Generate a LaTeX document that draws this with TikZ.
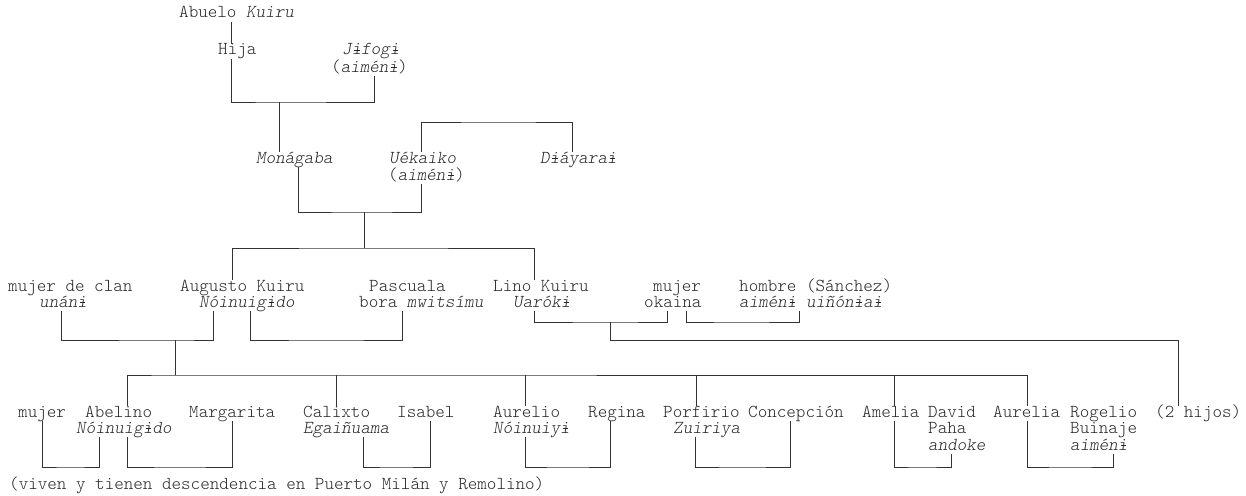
\documentclass[tikz,border=0pt]{standalone}
\usepackage{fontspec}
\usepackage{tikz}
% barred i, built from the mono i (the font has no glyph for it)
\newcommand\ib{\ooalign{i\cr\hidewidth\kern0.06em\raisebox{0.22em}{\rule{0.3em}{0.04em}}\hidewidth\cr}}

\begin{document}
\begin{tikzpicture}[x=1pt,y=-1pt]
  \tikzstyle{nm}=[inner sep=0pt,anchor=base west,text height=11pt,text depth=4pt,
                  text=black!85,font=\ttfamily\fontseries{l}\fontsize{18.2}{20}\selectfont]
  \tikzstyle{link}=[draw=black!80,line width=0.8pt]
  \useasboundingbox (0,0) rectangle (1246,495);

  % people, one node per printed line
  \node[nm] (abuelo) at (179,18) {Abuelo \textsl{Kuiru}};
  \foreach \id/\x/\t in {hija/218/Hija, jifogi/342/\textsl{J\ib fog\ib}}
      \node[nm] (\id) at (\x,55) {\t};
  \node[nm] (jifogiB) at (331,72) {(\textsl{aimén\ib})};
  \foreach \id/\x/\t in {monagaba/256/\textsl{Monágaba}, uekaiko/389/\textsl{Uékaiko},
                         diayarai/540/\textsl{D\ib áyara\ib}}
      \node[nm] (\id) at (\x,163) {\t};
  \node[nm] (uekaikoB) at (388,180) {(\textsl{aimén\ib})};
  \foreach \id/\x/\t in {clan/8/mujer de clan, augusto/180/Augusto Kuiru,
                         pascuala/369/Pascuala, lino/493/Lino Kuiru,
                         okaina/653/mujer, sanchez/739/hombre (Sánchez)}
      \node[nm] (\id) at (\x,291) {\t};
  \foreach \id/\x/\t in {clanB/39/\textsl{unán\ib}, augustoB/199/\textsl{Nóinuig\ib do},
                         pascualaB/359/bora \textsl{mwitsímu}, linoB/513/\textsl{Uarók\ib},
                         okainaB/644/okaina, sanchezB/739/\textsl{aimén\ib{} uiñón\ib a\ib}}
      \node[nm] (\id) at (\x,307) {\t};
  \foreach \id/\x/\t in {mujer/18/mujer, abelino/85/Abelino, margarita/189/Margarita,
                         calixto/303/Calixto, isabel/397/Isabel, aurelio/493/Aurelio,
                         regina/588/Regina, porfirio/663/Porfirio,
                         concepcion/748/Concepción, amelia/862/Amelia, david/928/David,
                         aurelia/993/Aurelia, rogelio/1070/Rogelio, hijos/1155/(2 hijos)}
      \node[nm] (\id) at (\x,417) {\t};
  \foreach \id/\x/\t in {abelinoB/76/\textsl{Nóinuig\ib do}, calixtoB/303/\textsl{Egaiñuama},
                         aurelioB/493/\textsl{Nóinuiy\ib}, porfirioB/673/\textsl{Zuiriya},
                         davidB/928/Paha, rogelioB/1070/Buinaje}
      \node[nm] (\id) at (\x,433) {\t};
  \foreach \id/\x/\t in {davidC/928/\textsl{andoke}, rogelioC/1070/\textsl{aimén\ib}}
      \node[nm] (\id) at (\x,450) {\t};
  \node[nm] (note) at (9,489) {(viven y tienen descendencia en Puerto Milán y Remolino)};

  % couples
  \foreach \a/\da/\b/\db/\bx/\by in {hija/13/jifogiB/43/279/102,
          monagaba/42/uekaikoB/33/364/212, clanB/22/augustoB/14/175/340,
          augustoB/51/pascualaB/43/326/340, linoB/21/okainaB/23/610/322,
          okainaB/42/sanchezB/60/740/322, mujer/24/abelinoB/23/70/467,
          abelinoB/51/margarita/43/180/467, calixtoB/60/isabel/33/396/467,
          aurelioB/32/regina/22/568/467, porfirioB/22/concepcion/42/742/467,
          amelia/32/davidC/23/922/467, aurelia/34/rogelioC/43/1070/467}
  {
      \path ([xshift=\da pt]\a.south west) coordinate (p)
            ([xshift=\db pt]\b.south west) coordinate (q);
      \coordinate (u-\a) at (\bx,\by);
      \draw[link] (p) |- (u-\a) -| (q);
  }

  % descent and siblings
  \draw[link] ([xshift=13pt]hija.north west) -- ([xshift=13pt]hija.north west |- abuelo.south);
  \draw[link] (u-hija) -- (u-hija |- monagaba.north);

  \coordinate (s1) at (500,122);
  \draw[link] ([xshift=32pt]uekaiko.north west) |- (s1) -| ([xshift=32pt]diayarai.north west);

  \coordinate (s2) at (364,248);
  \draw[link] (u-monagaba) -- (s2);
  \draw[link] ([xshift=52pt]augusto.north west) |- (s2) -| ([xshift=41pt]lino.north west);

  \coordinate (s3) at (175,375);
  \draw[link] (u-clanB) -- (s3);
  \foreach \k/\dk in {abelino/42, calixto/33, aurelio/32, porfirio/33, amelia/32, aurelia/34}
      \path ([xshift=\dk pt]\k.north west) coordinate (d-\k);
  \draw[link] (d-abelino) |- (s3) -| (d-aurelia);
  \foreach \k in {calixto, aurelio, porfirio, amelia}
      \draw[link] (d-\k) -- (d-\k |- s3);

  \coordinate (s4) at (610,340);
  \draw[link] (u-linoB) -- (s4) -| ([xshift=23pt]hijos.north west);
\end{tikzpicture}
\end{document}
